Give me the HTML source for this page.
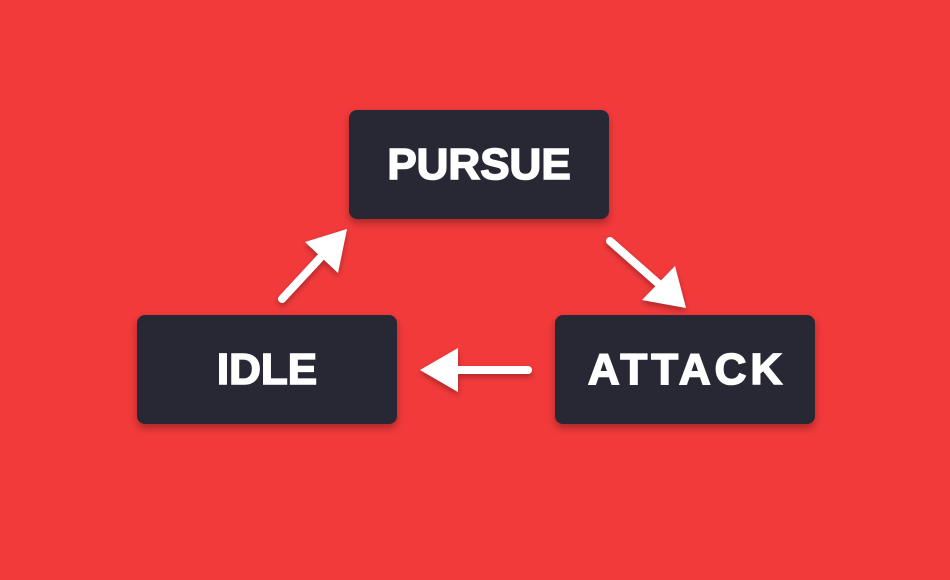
<!DOCTYPE html>
<html><head><style>
html,body{margin:0;padding:0}
body{width:950px;height:580px;background:#f23a3b;position:relative;overflow:hidden;font-family:"Liberation Sans",sans-serif}
.b{position:absolute;width:260px;height:109px;background:#272833;border-radius:8px;box-shadow:0 4px 8px rgba(0,0,0,0.3);color:#fff;font-weight:bold;font-size:44px;display:flex;align-items:center;justify-content:center;-webkit-text-stroke:1.6px #fff}
</style></head><body>
<div class="b" style="left:349px;top:110px">PURSUE</div>
<div class="b" style="left:137px;top:315px">IDLE</div>
<div class="b" style="left:555px;top:315px;letter-spacing:4px;text-indent:4px">ATTACK</div>
<svg width="950" height="580" style="position:absolute;left:0;top:0">
<defs><filter id="s"><feDropShadow dx="0" dy="3" stdDeviation="3" flood-opacity="0.3"/></filter></defs>
<g fill="#fff" stroke="#fff" stroke-linecap="round" filter="url(#s)">
<line x1="282" y1="299" x2="320" y2="258" stroke-width="8"/>
<polygon points="347,229 305,242 338,273" stroke="none"/>
<line x1="610" y1="241" x2="660" y2="285" stroke-width="8"/>
<polygon points="686,308 642,300 675,266" stroke="none"/>
<line x1="528" y1="370" x2="450" y2="370" stroke-width="8"/>
<polygon points="420,370 458,348 458,392" stroke="none"/>
</g>
</svg>
</body></html>
